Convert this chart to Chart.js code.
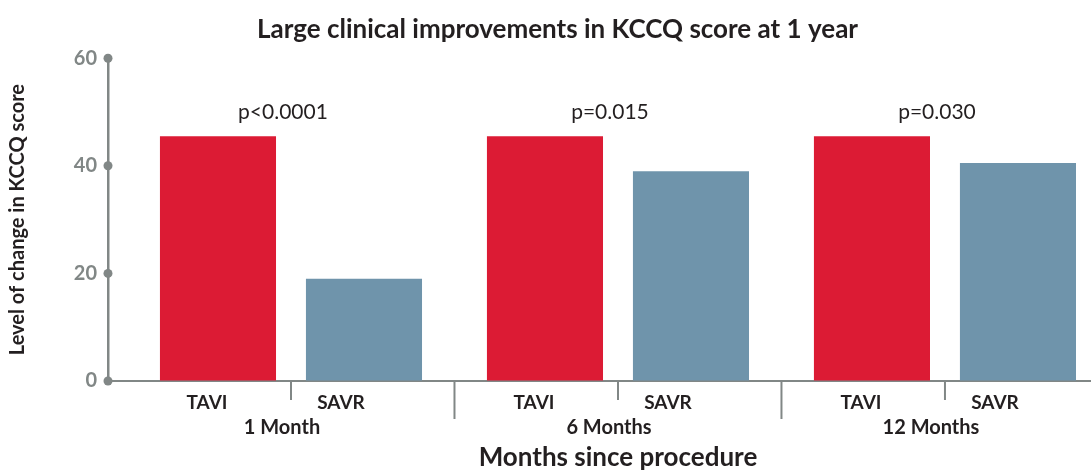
<!DOCTYPE html>
<html lang="en">
<head>
  <meta charset="UTF-8">
  <title>KCCQ score at 1 year</title>
  <script src="https://cdn.jsdelivr.net/npm/chart.js"></script>
  <style>
    html, body { margin: 0; padding: 0; background: #fff; overflow: hidden; }
    canvas { display: block; }
  </style>
</head>
<body>
  <canvas id="chart" width="1115" height="470"></canvas>
  <script>
    const groups = ['1 Month', '6 Months', '12 Months'];
    const seriesNames = ['TAVI', 'SAVR'];
    const tavi = [45.5, 45.5, 45.5];
    const savr = [19, 39, 40.5];
    const pValues = ['p<0.0001', 'p=0.015', 'p=0.030'];
    const yTicks = [0, 20, 40, 60];

    const RED = '#dc1b34';
    const BLUE = '#6f94ab';
    const AXIS = '#818786';
    const TEXT = '#231f20';
    const FONT = 'Lato, "Open Sans", sans-serif';

    // draws y-axis dots, x separators and the category/p-value texts
    const labelPlugin = {
      id: 'labels',
      afterDraw(chart) {
        const { ctx, scales: { x, y } } = chart;
        const base = y.getPixelForValue(0);
        ctx.save();

        ctx.fillStyle = AXIS;
        y.ticks.forEach(t => {
          ctx.beginPath();
          ctx.arc(x.left, y.getPixelForValue(t.value), 4.5, 0, Math.PI * 2);
          ctx.fill();
        });

        ctx.strokeStyle = AXIS;
        ctx.lineWidth = 2;
        const line = (px, len) => {
          ctx.beginPath();
          ctx.moveTo(px, base);
          ctx.lineTo(px, base + len);
          ctx.stroke();
        };
        groups.forEach((g, i) => {
          line(x.getPixelForValue(i), 19);
          if (i < groups.length - 1) line(x.getPixelForValue(i + 0.5), 38);
        });

        ctx.textAlign = 'center';
        ctx.textBaseline = 'middle';
        ctx.fillStyle = TEXT;
        groups.forEach((g, i) => {
          const cx = x.getPixelForValue(i);
          ctx.font = 'bold 19px ' + FONT;
          ctx.fillText(seriesNames[0], cx - 84, base + 22);
          ctx.fillText(seriesNames[1], cx + 50, base + 22);
          ctx.font = 'bold 20px ' + FONT;
          ctx.fillText(g, cx - (i === 2 ? 14 : 9), base + 47);
          ctx.font = '21px ' + FONT;
          ctx.fillText(pValues[i], cx - 8, y.getPixelForValue(49.9));
        });

        ctx.font = 'bold 26px ' + FONT;
        ctx.fillText('Months since procedure', x.getPixelForValue(1), base + 77);
        ctx.restore();
      }
    };

    new Chart(document.getElementById('chart'), {
      type: 'bar',
      data: {
        datasets: [
          {
            label: seriesNames[0],
            data: tavi.map((v, i) => ({ x: i, y: v })),
            backgroundColor: RED
          },
          {
            label: seriesNames[1],
            data: savr.map((v, i) => ({ x: i, y: v })),
            backgroundColor: BLUE
          }
        ]
      },
      options: {
        responsive: false,
        animation: false,
        categoryPercentage: 0.893,
        barPercentage: 0.795,
        layout: { padding: 0 },
        plugins: {
          legend: { display: false },
          tooltip: { enabled: false },
          title: {
            display: true,
            text: 'Large clinical improvements in KCCQ score at 1 year',
            color: TEXT,
            font: { family: FONT, size: 26, weight: 'bold' },
            padding: { top: 14, bottom: 13 }
          }
        },
        scales: {
          x: {
            type: 'linear',
            offset: false,
            min: -0.5596,
            max: 2.52,
            afterBuildTicks: s => { s.ticks = groups.map((g, i) => ({ value: i })); },
            afterFit: s => { s.height = 89; },
            ticks: { display: false },
            grid: { offset: false, drawOnChartArea: false, drawTicks: false },
            border: { color: AXIS, width: 2 }
          },
          y: {
            min: 0,
            max: 60,
            afterBuildTicks: s => { s.ticks = yTicks.map(v => ({ value: v })); },
            afterFit: s => { s.width = 108; },
            ticks: {
              color: AXIS,
              padding: 11,
              font: { family: FONT, size: 20, weight: 'bold' }
            },
            grid: { drawOnChartArea: false, drawTicks: false },
            border: { color: AXIS, width: 2.5 },
            title: {
              display: true,
              text: 'Level of change in KCCQ score',
              color: TEXT,
              font: { family: FONT, size: 20, weight: 'bold' },
              padding: { top: 6, bottom: 0 }
            }
          }
        }
      },
      plugins: [labelPlugin]
    });
  </script>
</body>
</html>
